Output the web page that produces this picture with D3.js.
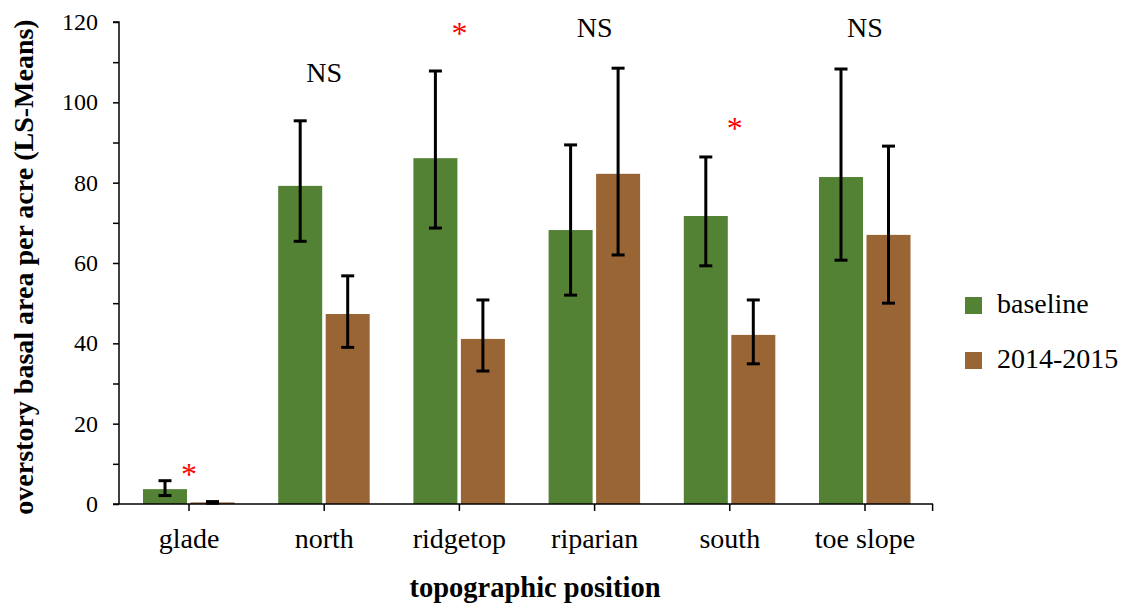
<!DOCTYPE html>
<html>
<head>
<meta charset="utf-8">
<script src="https://cdn.jsdelivr.net/npm/d3@7"></script>
<style>
  body { margin: 0; background: #fff; }
</style>
</head>
<body>
<div id="chart"></div>
<script>
// --- data ---
const categories = ["glade", "north", "ridgetop", "riparian", "south", "toe slope"];
const seriesNames = ["baseline", "2014-2015"];
const baseline = [3.7, 79.2, 86.1, 68.2, 71.7, 81.4];
const baselineLow = [2.1, 65.4, 68.7, 52.0, 59.3, 60.7];
const baselineHigh = [5.8, 95.4, 107.8, 89.4, 86.4, 108.3];
const recent = [0.4, 47.3, 41.1, 82.2, 42.1, 67.0];
const recentLow = [0.2, 39.0, 33.1, 62.0, 34.9, 50.0];
const recentHigh = [0.6, 56.8, 50.8, 108.5, 50.8, 89.1];
const marks = ["*", "NS", "*", "NS", "*", "NS"];
const markY = [8.7, 105, 118.5, 116.3, 94.9, 116.3];
const yTicks = [0, 20, 40, 60, 80, 100, 120];

const width = 1127, height = 608;
const colors = ["#548235", "#9a6535"];
const serif = "'Liberation Serif', 'Times New Roman', 'DejaVu Serif', serif";

const svg = d3.select("#chart").append("svg")
  .attr("width", width)
  .attr("height", height)
  .attr("font-family", serif);

const x = d3.scaleBand().domain(categories).range([121.4, 932.6]);
const y = d3.scaleLinear().domain([0, 120]).range([504, 22]);

const series = [
  { name: seriesNames[0], vals: baseline, lo: baselineLow, hi: baselineHigh },
  { name: seriesNames[1], vals: recent, lo: recentLow, hi: recentHigh }
];
const barW = 44;
const barX = (i, s) => x(categories[i]) + x.bandwidth() / 2 + (s === 0 ? -46 : 1.5);

// bars
series.forEach((s, si) => {
  svg.append("g").selectAll("rect")
    .data(s.vals)
    .join("rect")
    .attr("x", (d, i) => barX(i, si))
    .attr("y", d => y(d))
    .attr("width", barW)
    .attr("height", d => y(0) - y(d))
    .attr("fill", colors[si]);
});

// error bars
series.forEach((s, si) => {
  const g = svg.append("g").attr("stroke", "#000").attr("stroke-width", 3);
  s.vals.forEach((v, i) => {
    const cx = barX(i, si) + barW / 2;
    g.append("line").attr("x1", cx).attr("x2", cx).attr("y1", y(s.lo[i])).attr("y2", y(s.hi[i]));
    [s.lo[i], s.hi[i]].forEach(e => {
      g.append("line").attr("x1", cx - 6.5).attr("x2", cx + 6.5).attr("y1", y(e)).attr("y2", y(e));
    });
  });
});

// y axis
const yAxis = svg.append("g").attr("transform", "translate(119,0)");
yAxis.call(d3.axisLeft(y).tickValues(d3.range(0, 121, 10)).tickSize(6).tickFormat(""));
yAxis.attr("font-family", serif);
yAxis.selectAll("path, line").attr("stroke", "#000").attr("stroke-width", 1.5);
yAxis.selectAll(".domain").attr("d", `M-6,${y(120)}H0V${y(0)}`);
yAxis.append("g").selectAll("text")
  .data(yTicks)
  .join("text")
  .attr("x", -21)
  .attr("y", d => y(d))
  .attr("dy", "0.33em")
  .attr("text-anchor", "end")
  .attr("font-size", 24)
  .style("font-family", serif)
  .style("fill", "#000")
  .text(d => d);

// x axis
const xAxis = svg.append("g").attr("transform", `translate(0,${y(0)})`);
xAxis.append("line").attr("x1", 113).attr("x2", 933).attr("stroke", "#000").attr("stroke-width", 1.5);
xAxis.selectAll(".tk")
  .data(categories)
  .join("line")
  .attr("class", "tk")
  .attr("x1", d => x(d) + x.bandwidth() / 2)
  .attr("x2", d => x(d) + x.bandwidth() / 2)
  .attr("y1", 0).attr("y2", 7)
  .attr("stroke", "#000").attr("stroke-width", 1.5);
xAxis.append("line").attr("x1", 932.6).attr("x2", 932.6).attr("y1", 0).attr("y2", 7)
  .attr("stroke", "#000").attr("stroke-width", 1.5);
xAxis.selectAll(".lbl")
  .data(categories)
  .join("text")
  .attr("class", "lbl")
  .attr("x", d => x(d) + x.bandwidth() / 2)
  .attr("y", 44)
  .attr("text-anchor", "middle")
  .attr("font-size", 28)
  .style("font-family", serif)
  .text(d => d);

// significance marks
svg.append("g").selectAll("text")
  .data(marks)
  .join("text")
  .attr("x", (d, i) => x(categories[i]) + x.bandwidth() / 2 + (d === "*" && i === 4 ? 5 : 0))
  .attr("y", (d, i) => y(markY[i]))
  .attr("dy", d => d === "*" ? 16 : 0)
  .attr("text-anchor", "middle")
  .attr("font-size", d => d === "*" ? 32 : 28)
  .style("font-family", serif)
  .style("fill", d => d === "*" ? "#ff0000" : "#000")
  .text(d => d);

// axis titles
svg.append("text")
  .attr("x", 535)
  .attr("y", 597)
  .attr("text-anchor", "middle")
  .attr("font-size", 28.5)
  .attr("font-weight", "bold")
  .style("font-family", serif)
  .text("topographic position");

svg.append("text")
  .attr("transform", "translate(33,267) rotate(-90)")
  .attr("text-anchor", "middle")
  .attr("font-size", 28)
  .attr("font-weight", "bold")
  .style("font-family", serif)
  .text("overstory basal area per acre (LS-Means)");

// legend
const legend = svg.append("g");
seriesNames.forEach((n, i) => {
  legend.append("rect")
    .attr("x", 965).attr("y", 297 + i * 55)
    .attr("width", 17).attr("height", 17)
    .attr("fill", colors[i]);
  legend.append("text")
    .attr("x", 997).attr("y", 313 + i * 55)
    .attr("font-size", 28)
    .style("font-family", serif)
    .text(n);
});
</script>
</body>
</html>
